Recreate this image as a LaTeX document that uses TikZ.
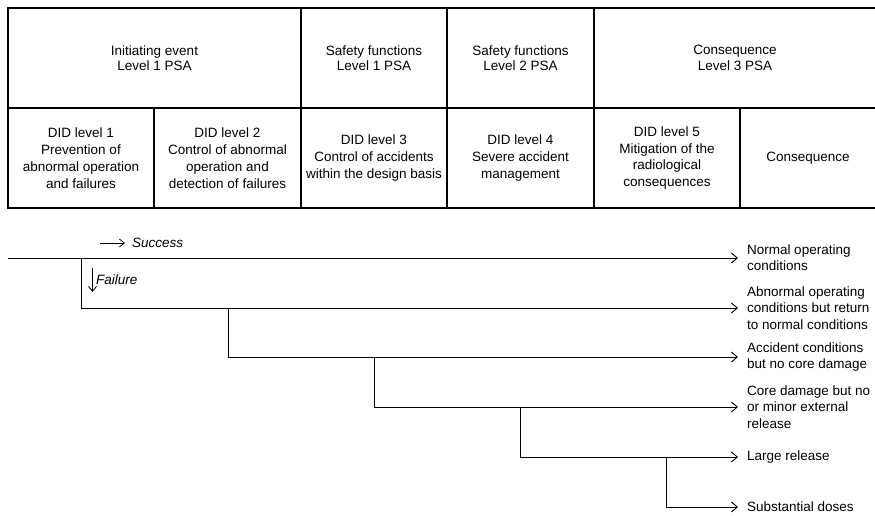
\documentclass[tikz,border=0pt]{standalone}
\usepackage{fontspec}
\setmainfont{Liberation Sans}
\usetikzlibrary{arrows.meta}

\begin{document}
\begin{tikzpicture}[x=1pt, y=-1pt,
  cell/.style={draw, line width=1.2pt, anchor=north west, inner sep=0pt, outer sep=0pt,
    minimum height=100pt, align=center, font=\fontsize{13.5}{15.5}\selectfont},
  didcell/.style={cell, font=\fontsize{13.5}{16.8}\selectfont},
  branch/.style={line width=1pt},
  flow/.style={branch, -{Straight Barb[length=6pt, width=10pt, line width=0.9pt]}},
  outcome/.style={anchor=west, inner sep=0pt, outer xsep=9pt, outer ysep=0pt, align=left,
    font=\fontsize{13.5}{16.2}\selectfont},
  note/.style={anchor=west, inner sep=0pt, font=\fontsize{13.5}{16}\selectfont\itshape},
  hint/.style={line width=0.9pt, -{Straight Barb[length=5pt, width=8pt, line width=0.8pt]}}
]
\useasboundingbox (0,0) rectangle (875,516);

% header row: PSA levels
\node[cell, minimum width=293pt] (psa1) at (8,8)   {Initiating event\\Level 1 PSA};
\node[cell, minimum width=146pt] (sf1)  at (301,8) {Safety functions\\Level 1 PSA};
\node[cell, minimum width=147pt] (sf2)  at (447,8) {Safety functions\\Level 2 PSA};
\node[cell, minimum width=282pt] (psa3) at (594,8) {Consequence\\Level 3 PSA};

% second row: defence-in-depth levels
\node[didcell, minimum width=146pt] (did1) at (8,108)   {DID level 1\\Prevention of\\abnormal operation\\and failures};
\node[didcell, minimum width=147pt] (did2) at (154,108) {DID level 2\\Control of abnormal\\operation and\\detection of failures};
\node[didcell, minimum width=146pt] (did3) at (301,108) {DID level 3\\Control of accidents\\within the design basis};
\node[didcell, minimum width=147pt] (did4) at (447,108) {DID level 4\\Severe accident\\management};
\node[didcell, minimum width=146pt] (did5) at (594,108) {DID level 5\\Mitigation of the\\radiological\\consequences};
\node[didcell, minimum width=136pt] (cons) at (740,108) {Consequence};

% end states of the event tree (arrow tips end 9pt before the text)
\node[outcome] (o1) at (738,258) {Normal operating\\conditions};
\node[outcome] (o2) at (738,308) {Abnormal operating\\conditions but return\\to normal conditions};
\node[outcome] (o3) at (738,357) {Accident conditions\\but no core damage};
\node[outcome] (o4) at (738,407) {Core damage but no\\or minor external\\release};
\node[outcome] (o5) at (738,457) {Large release};
\node[outcome] (o6) at (738,507) {Substantial doses};

% branch points
\coordinate (start) at (8,258);
\coordinate (b1) at (81,258);
\coordinate (b2) at (228,308);
\coordinate (b3) at (374,357);
\coordinate (b4) at (520,407);
\coordinate (b5) at (666,457);

\draw[flow] (start) -- (o1);
\draw[flow] (b1) |- (o2);
\draw[flow] (b2) |- (o3);
\draw[flow] (b3) |- (o4);
\draw[flow] (b4) |- (o5);
\draw[flow] (b5) |- (o6);

% legend for success / failure directions
\node[note] (succ) at (132,243) {Success};
\coordinate (sa) at (100,243);
\draw[hint] (sa) -- ([xshift=-7pt]succ.west);

\node[note] (fail) at (96,280) {Failure};
\coordinate (fa) at (92.5,268);
\coordinate (fb) at (92.5,292);
\draw[hint] (fa) -- (fb);
\end{tikzpicture}
\end{document}
